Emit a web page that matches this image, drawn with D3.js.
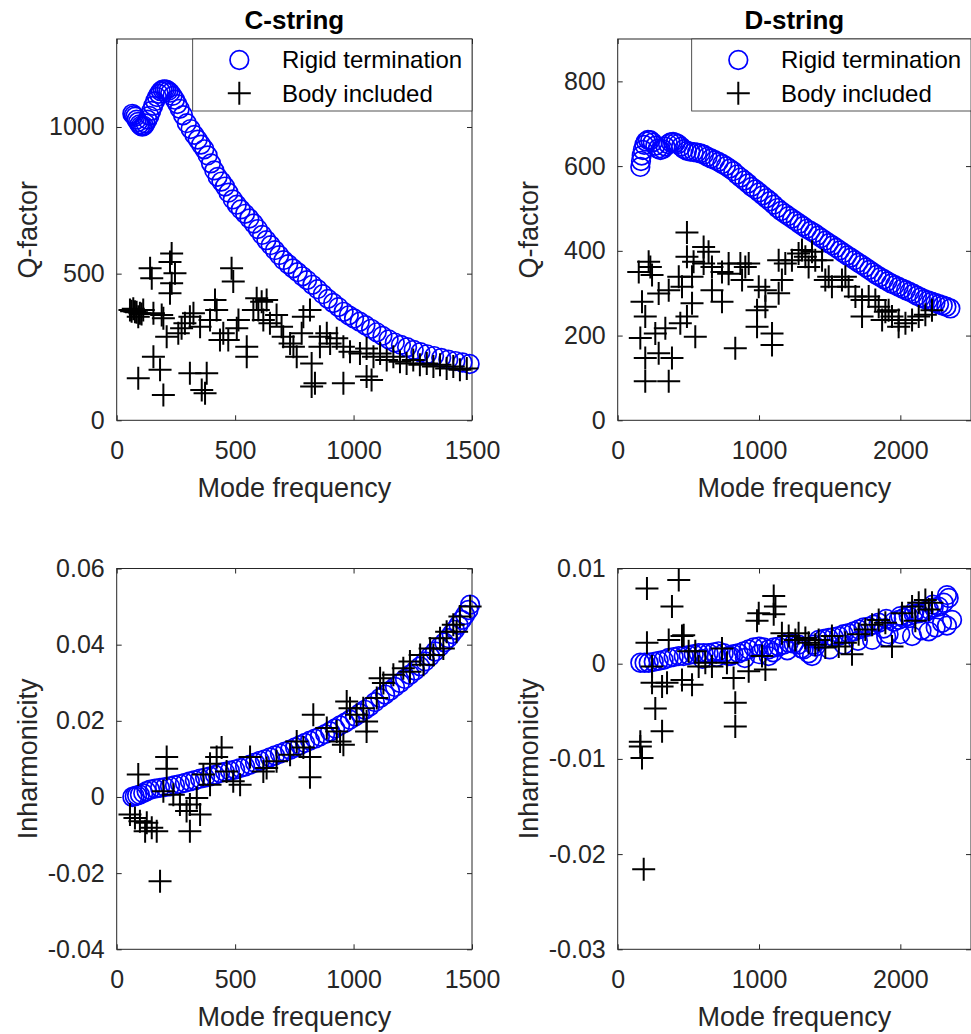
<!DOCTYPE html>
<html>
<head>
<meta charset="utf-8">
<script src="https://cdn.jsdelivr.net/npm/d3@7"></script>
<style>
  body { margin: 0; background: #fff; }
  svg { display: block; font-family: "Liberation Sans", Arial, Helvetica, sans-serif; }
</style>
</head>
<body>
<svg id="chart" width="971" height="1034"></svg>
<script>
// C-string, Q-factor: [frequency, Q]
const cRigidQ = [[66,1045],[72,1040],[78,1035],[84,1025],[90,1017],[96,1009],[102,1004],[108,1001],[115,1004],[122,1012],
  [130,1025],[138,1038],[146,1055],[154,1072],[162,1088],[170,1102],[178,1113],[186,1122],[194,1127],[202,1128],
  [210,1127],[218,1123],[226,1117],[236,1106],[246,1093],[256,1078],[266,1062],[280,1040],[296,1013],[312,993],
  [328,973],[342,957],[356,940],[370,924],[384,903],[398,876],[412,852],[426,830],[442,814],[457,797],[472,776],
  [490,753],[507,735],[524,719],[542,704],[560,688],[578,671],[596,652],[614,632],[632,614],[650,597],[668,580],
  [686,563],[704,546],[724,532],[744,518],[764,505],[784,491],[804,478],[826,462],[848,447],[870,430],[892,414],
  [914,400],[936,386],[958,370],[980,358],[1002,347],[1026,336],[1050,324],[1074,312],[1098,300],[1122,288],
  [1148,276],[1174,265],[1200,257],[1226,249],[1254,240],[1282,232],[1310,225],[1340,219],[1370,213],[1400,207],
  [1430,202],[1460,197],[1490,192]];
const cBodyQ = [[232,569],[225,540],[246,501],[141,518],[148,484],[232,467],[225,433],[485,518],[492,473],[56,376],
  [63,372],[70,380],[77,370],[84,368],[98,365],[91,353],[105,362],[112,376],[190,359],[197,348],[415,410],[422,376],
  [324,365],[309,353],[274,314],[260,297],[211,285],[155,217],[183,172],[91,143],[197,86],[309,160],[380,160],
  [359,103],[373,92],[591,416],[612,404],[633,410],[598,376],[514,342],[507,314],[450,297],[471,274],[549,251],
  [549,217],[675,359],[696,319],[703,285],[732,262],[760,217],[788,353],[816,376],[823,194],[823,115],[837,126],
  [957,126],[1055,149],[1076,137],[858,285],[887,297],[901,262],[929,280],[957,251],[985,234],[1027,228],[1055,245],
  [1084,217],[1112,228],[1140,206],[1168,217],[1196,200],[1224,194],[1252,206],[1280,189],[1309,194],[1337,183],
  [1365,189],[1393,177],[1421,183],[1449,172],[1478,177],[394,342],[352,319],[436,274],[647,331],[619,342],
  [577,376],[746,251],[781,297],[858,251],[155,365],[288,331]];

// D-string, Q-factor
const dRigidQ = [[160,598],[165,612],[170,625],[178,638],[188,650],[200,658],[214,662],[230,661],[248,656],[266,648],
  [284,641],[302,638],[320,640],[338,646],[356,652],[374,656],[392,657],[410,655],[428,652],[448,646],[468,640],
  [490,636],[514,634],[538,633],[562,632],[586,630],[610,627],[636,622],[662,618],[688,614],[714,610],[740,605],
  [766,600],[792,594],[818,588],[844,580],[870,573],[896,566],[922,559],[948,551],[974,545],[1000,538],[1026,531],
  [1052,524],[1078,517],[1104,509],[1130,501],[1156,494],[1182,488],[1208,482],[1234,476],[1260,470],[1286,464],
  [1312,458],[1338,452],[1364,447],[1390,442],[1416,436],[1442,430],[1468,424],[1494,418],[1520,413],[1546,407],
  [1572,401],[1598,395],[1624,389],[1650,384],[1676,378],[1702,372],[1728,367],[1754,361],[1780,355],[1806,349],
  [1832,343],[1858,338],[1884,333],[1910,328],[1936,323],[1962,319],[1988,315],[2014,311],[2040,307],[2066,303],
  [2092,299],[2118,294],[2144,290],[2170,286],[2196,283],[2222,280],[2248,277],[2274,274],[2300,271],[2326,268],
  [2354,264]];
const dBodyQ = [[490,443],[608,409],[643,398],[490,386],[537,374],[608,370],[667,362],[738,350],[785,370],[785,346],
  [868,370],[903,362],[927,370],[880,331],[219,374],[149,350],[243,343],[231,362],[361,307],[455,315],[526,339],
  [526,276],[490,245],[443,229],[337,217],[549,197],[172,280],[195,245],[160,194],[195,147],[290,158],[384,147],
  [195,92],[361,92],[667,307],[738,280],[832,170],[986,260],[1045,268],[986,221],[1092,205],[1092,178],[998,315],
  [1045,307],[1139,300],[1162,331],[1186,370],[1139,378],[1233,378],[1280,394],[1304,402],[1328,386],[1375,398],
  [1398,378],[1351,362],[1446,378],[1493,339],[1516,315],[1587,331],[1611,339],[1634,315],[1682,292],[1729,284],
  [1776,292],[1823,284],[1729,245],[1847,268],[1894,256],[1941,245],[1988,237],[2036,229],[2083,237],[2130,245],
  [2177,249],[2224,260],[1871,237],[1917,260],[1988,221],[1469,331],[432,339],[290,299],[266,205]];

// C-string, inharmonicity
const cRigidInh = [[66,0.0000],[76,0.0002],[86,0.0004],[98,0.0006],[112,0.0010],[126,0.0015],[141,0.0019],[162,0.0022],
  [183,0.0024],[204,0.0026],[225,0.0028],[246,0.0031],[267,0.0034],[288,0.0037],[309,0.0041],[330,0.0044],
  [352,0.0048],[373,0.0051],[394,0.0054],[415,0.0058],[436,0.0063],[457,0.0066],[478,0.0069],[500,0.0072],
  [521,0.0076],[542,0.0080],[563,0.0085],[584,0.0090],[605,0.0095],[626,0.0099],[647,0.0104],[668,0.0109],
  [689,0.0114],[710,0.0119],[732,0.0124],[753,0.0130],[774,0.0136],[795,0.0142],[816,0.0148],[837,0.0153],
  [858,0.0159],[880,0.0165],[901,0.0172],[922,0.0180],[943,0.0188],[964,0.0195],[985,0.0203],[1006,0.0211],
  [1027,0.0220],[1048,0.0229],[1069,0.0238],[1090,0.0249],[1112,0.0260],[1133,0.0269],[1154,0.0279],[1175,0.0289],
  [1196,0.0299],[1217,0.0310],[1238,0.0321],[1260,0.0332],[1281,0.0343],[1302,0.0356],[1323,0.0369],[1344,0.0382],
  [1365,0.0395],[1383,0.0406],[1400,0.0417],[1414,0.0428],[1428,0.0439],[1443,0.0452],[1457,0.0465],[1471,0.0478],
  [1485,0.0491],[1492,0.0505]];
const cBodyInh = [[183,-0.0221],[91,0.0059],[211,0.0105],[211,0.0074],[443,0.0130],[422,0.0105],[394,0.0087],
  [366,0.0059],[830,0.0216],[816,0.0105],[816,0.0052],[971,0.0251],[985,0.0233],[1055,0.0198],[1055,0.0172],
  [943,0.0146],[1112,0.0312],[1126,0.0299],[56,-0.0046],[77,-0.0055],[98,-0.0064],[127,-0.0068],[148,-0.0081],
  [169,-0.0090],[120,-0.0090],[295,-0.0037],[309,-0.0090],[352,-0.0046],[267,-0.0020],[239,0.0006],[338,-0.0003],
  [394,0.0032],[492,0.0041],[521,0.0032],[563,0.0105],[619,0.0067],[675,0.0094],[732,0.0111],[760,0.0146],
  [887,0.0181],[929,0.0172],[957,0.0137],[1013,0.0216],[1168,0.0321],[1210,0.0338],[1238,0.0356],[1281,0.0373],
  [1323,0.0390],[1365,0.0417],[1393,0.0434],[1421,0.0452],[1449,0.0474],[1492,0.0500],[1098,0.0260],[1041,0.0233],
  [788,0.0130],[633,0.0076],[464,0.0067],[197,0.0015],[309,-0.0020],[1238,0.0329],[1295,0.0347],[1337,0.0373],
  [1379,0.0390],[1435,0.0434]];

// D-string, inharmonicity
const dRigidInh = [[160,0.0001],[190,0.0001],[219,0.0001],[255,0.0002],[290,0.0003],[325,0.0004],[361,0.0006],
  [396,0.0007],[432,0.0008],[467,0.0008],[502,0.0009],[538,0.0010],[573,0.0011],[608,0.0011],[643,0.0011],
  [679,0.0012],[714,0.0013],[750,0.0011],[785,0.0008],[820,0.0010],[856,0.0011],[891,0.0013],[927,0.0015],
  [962,0.0017],[998,0.0018],[1033,0.0017],[1068,0.0015],[1104,0.0017],[1139,0.0018],[1175,0.0020],[1210,0.0022],
  [1245,0.0021],[1280,0.0020],[1316,0.0015],[1351,0.0011],[1386,0.0020],[1422,0.0025],[1457,0.0026],[1493,0.0027],
  [1528,0.0028],[1564,0.0029],[1599,0.0031],[1634,0.0032],[1670,0.0034],[1705,0.0036],[1740,0.0038],[1776,0.0039],
  [1811,0.0041],[1847,0.0043],[1882,0.0037],[1917,0.0031],[1953,0.0044],[1988,0.0046],[2024,0.0048],[2059,0.0050],
  [2095,0.0052],[2130,0.0053],[2165,0.0055],[2201,0.0057],[2236,0.0059],[2271,0.0060],[2307,0.0064],[2342,0.0069],
  [2366,0.0046],[2295,0.0043],[2201,0.0034],[2083,0.0029],[1800,0.0025],[1375,0.0008],[1068,0.0008],
  [600,0.0005],[700,0.0007],[800,0.0008],[900,0.0006],[1000,0.0010],[1100,0.0012],[1200,0.0014],[1300,0.0016],
  [1400,0.0018],[1500,0.0015],[1600,0.0020],[1700,0.0024],[1900,0.0028],[2000,0.0031],[2150,0.0035],[2250,0.0038],
  [2330,0.0040],[1900,0.0047],[2000,0.0050],[2100,0.0055],[2230,0.0062],[2330,0.0072]];
const dBodyInh = [[184,-0.0216],[207,0.0079],[432,0.0088],[384,0.0060],[207,0.0022],[361,0.0025],[467,0.0030],
  [160,-0.0082],[160,-0.0087],[172,-0.0099],[314,-0.0071],[266,-0.0047],[243,-0.0020],[314,-0.0024],[349,-0.0020],
  [526,-0.0022],[455,-0.0017],[243,-0.0003],[549,0.0013],[667,-0.0003],[773,0.0001],[820,-0.0015],[832,-0.0041],
  [832,-0.0066],[927,-0.0008],[1045,-0.0006],[998,0.0053],[986,0.0045],[1104,0.0071],[1116,0.0060],[1104,0.0052],
  [1162,0.0032],[1210,0.0029],[1280,0.0032],[1351,0.0022],[1398,0.0020],[1469,0.0017],[1564,0.0018],[1658,0.0010],
  [1705,0.0031],[1752,0.0036],[1847,0.0046],[1941,0.0018],[2012,0.0053],[2083,0.0060],[2130,0.0064],[2177,0.0067],
  [2201,0.0057],[2106,0.0045],[2224,0.0064],[455,0.0029],[620,0.0001],[738,0.0016],[1021,0.0008],[1257,0.0025],
  [1328,0.0027],[1422,0.0025],[1516,0.0029],[1611,0.0022],[1800,0.0041],[1894,0.0043],[502,0.0013],[573,-0.0003]];

const legendLabels = ["Rigid termination", "Body included"];
const titles = ["C-string", "D-string"];

const ink = "#262626";
const svg = d3.select("#chart");
svg.append("rect").attr("width", 971).attr("height", 1034).attr("fill", "#fff");

const panels = [
  {x0: 116.7, x1: 472, y0: 39, y1: 420.3, xd: [0, 1500], yd: [0, 1300], xt: [0, 500, 1000, 1500], yt: [0, 500, 1000],
   rigid: cRigidQ, body: cBodyQ, ylabel: "Q-factor", title: titles[0], legend: true},
  {x0: 617.7, x1: 971, y0: 39, y1: 420.3, xd: [0, 2500], yd: [0, 900], xt: [0, 1000, 2000], yt: [0, 200, 400, 600, 800],
   rigid: dRigidQ, body: dBodyQ, ylabel: "Q-factor", title: titles[1], legend: true},
  {x0: 116.7, x1: 472, y0: 568.5, y1: 949.3, xd: [0, 1500], yd: [-0.04, 0.06], xt: [0, 500, 1000, 1500],
   yt: [-0.04, -0.02, 0, 0.02, 0.04, 0.06], rigid: cRigidInh, body: cBodyInh, ylabel: "Inharmonicity"},
  {x0: 617.7, x1: 971, y0: 568.5, y1: 949.3, xd: [0, 2500], yd: [-0.03, 0.01], xt: [0, 1000, 2000],
   yt: [-0.03, -0.02, -0.01, 0, 0.01], rigid: dRigidInh, body: dBodyInh, ylabel: "Inharmonicity"}
];

const fmt = d => String(Math.round(d * 1000) / 1000);
const plusPath = "M-11.5,0H11.5M0,-11.5V11.5";

function styleAxis(g, size) {
  g.attr("font-size", size).attr("font-family", null).attr("color", ink);
  g.select(".domain").remove();
  g.selectAll(".tick line").attr("stroke-width", 1);
}

panels.forEach(p => {
  const x = d3.scaleLinear().domain(p.xd).range([p.x0, p.x1]);
  const y = d3.scaleLinear().domain(p.yd).range([p.y1, p.y0]);
  const g = svg.append("g");

  // ticks (inside, MATLAB style, on all four sides)
  g.append("g").attr("transform", `translate(0,${p.y1})`)
    .call(d3.axisBottom(x).tickValues(p.xt).tickSize(-5).tickPadding(21).tickFormat(fmt))
    .call(a => styleAxis(a, 25));
  g.append("g").attr("transform", `translate(0,${p.y0})`)
    .call(d3.axisTop(x).tickValues(p.xt).tickSize(-5).tickFormat(""))
    .call(a => styleAxis(a, 25));
  g.append("g").attr("transform", `translate(${p.x0},0)`)
    .call(d3.axisLeft(y).tickValues(p.yt).tickSize(-5).tickPadding(12).tickFormat(fmt))
    .call(a => styleAxis(a, 25));
  g.append("g").attr("transform", `translate(${p.x1},0)`)
    .call(d3.axisRight(y).tickValues(p.yt).tickSize(-5).tickFormat(""))
    .call(a => styleAxis(a, 25));

  g.append("rect")
    .attr("x", p.x0).attr("y", p.y0)
    .attr("width", p.x1 - p.x0).attr("height", p.y1 - p.y0)
    .attr("fill", "none").attr("stroke", ink).attr("stroke-width", 1);

  // rigid termination: blue circles
  g.append("g").selectAll("circle")
    .data(p.rigid)
    .enter().append("circle")
    .attr("cx", d => x(d[0])).attr("cy", d => y(d[1])).attr("r", 9.3)
    .attr("fill", "none").attr("stroke", "#0000ff").attr("stroke-width", 1.7);

  // body included: black plus markers
  g.append("g").selectAll("path")
    .data(p.body)
    .enter().append("path")
    .attr("transform", d => `translate(${x(d[0])},${y(d[1])})`)
    .attr("d", plusPath)
    .attr("stroke", "#000").attr("stroke-width", 2).attr("fill", "none");

  // labels
  g.append("text")
    .attr("x", (p.x0 + p.x1) / 2).attr("y", p.y1 + 76.4)
    .attr("text-anchor", "middle").attr("font-size", 27).attr("fill", ink)
    .text("Mode frequency");
  g.append("text")
    .attr("transform", `translate(${p.x0 - 79.7},${(p.y0 + p.y1) / 2}) rotate(-90)`)
    .attr("text-anchor", "middle").attr("font-size", 27).attr("fill", ink)
    .text(p.ylabel);

  if (p.title) {
    g.append("text")
      .attr("x", (p.x0 + p.x1) / 2).attr("y", 28.5)
      .attr("text-anchor", "middle").attr("font-size", 26).attr("font-weight", "bold").attr("fill", "#000")
      .text(p.title);
  }

  if (p.legend) {
    const lx = p.x1 - 279.3;
    const lg = g.append("g").attr("transform", `translate(${lx},${p.y0})`);
    lg.append("rect").attr("width", 279.3).attr("height", 72)
      .attr("fill", "#fff").attr("stroke", ink).attr("stroke-width", 0.8);
    lg.append("circle").attr("cx", 46.6).attr("cy", 21).attr("r", 9.3)
      .attr("fill", "none").attr("stroke", "#0000ff").attr("stroke-width", 1.7);
    lg.append("path").attr("transform", "translate(46.6,54.3)").attr("d", plusPath)
      .attr("stroke", "#000").attr("stroke-width", 2);
    lg.selectAll("text").data(legendLabels).enter().append("text")
      .attr("x", 89.3).attr("y", (d, i) => 29.3 + i * 33.3)
      .attr("font-size", 24).attr("fill", "#000")
      .text(d => d);
  }
});
</script>
</body>
</html>
